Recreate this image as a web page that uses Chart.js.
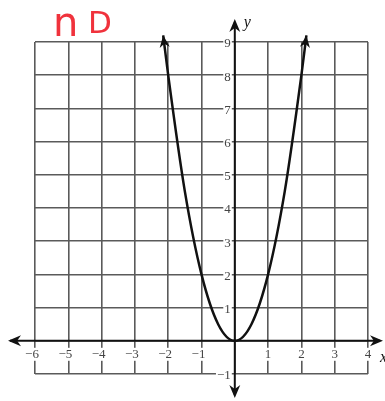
<!DOCTYPE html>
<html>
<head>
<meta charset="utf-8">
<script src="https://cdn.jsdelivr.net/npm/chart.js@4/dist/chart.umd.min.js"></script>
<style>
  body { margin: 0; background: #fff; }
  #wrap { width: 385px; height: 401px; }
</style>
</head>
<body>
<div id="wrap"><canvas id="graph" width="385" height="401"></canvas></div>
<script>
// points
const curveX = [-2.15, -2, -1.5, -1, -0.5, 0, 0.5, 1, 1.5, 2, 2.15];
const curveY = [9.2, 8, 4.5, 2, 0.5, 0, 0.5, 2, 4.5, 8, 9.2];

// tick labels
const xTicks = [-6, -5, -4, -3, -2, -1, 1, 2, 3, 4];
const yTicks = [-1, 1, 2, 3, 4, 5, 6, 7, 8, 9];

const xMin = -6, xMax = 4, yMin = -1, yMax = 9;

function label(n) {
  return n < 0 ? "\u2212" + Math.abs(n) : String(n);
}

function arrowHead(ctx, x, y, angle, size) {
  ctx.save();
  ctx.translate(x, y);
  ctx.rotate(angle);
  ctx.beginPath();
  ctx.moveTo(0, 0);
  ctx.lineTo(-size, -size * 0.42);
  ctx.lineTo(-size * 0.7, 0);
  ctx.lineTo(-size, size * 0.42);
  ctx.closePath();
  ctx.fill();
  ctx.restore();
}

// axes, arrows and labels drawn on top of the grid
const axesPlugin = {
  id: "axes",
  beforeDatasetsDraw(chart) {
    const ctx = chart.ctx;
    const xs = chart.scales.x, ys = chart.scales.y;
    const x0 = xs.getPixelForValue(0);
    const y0 = ys.getPixelForValue(0);

    ctx.save();
    ctx.strokeStyle = "#111";
    ctx.fillStyle = "#111";
    ctx.lineWidth = 2;

    // x axis
    ctx.beginPath();
    ctx.moveTo(10, y0);
    ctx.lineTo(380, y0);
    ctx.stroke();
    arrowHead(ctx, 8, y0, Math.PI, 13);
    arrowHead(ctx, 383, y0, 0, 13);

    // y axis
    ctx.beginPath();
    ctx.moveTo(x0, 22);
    ctx.lineTo(x0, 395);
    ctx.stroke();
    arrowHead(ctx, x0, 19, -Math.PI / 2, 13);
    arrowHead(ctx, x0, 398, Math.PI / 2, 13);

    // tick labels
    ctx.font = "13px 'Liberation Serif'";
    ctx.textBaseline = "middle";
    xTicks.forEach(v => {
      const px = xs.getPixelForValue(v) - (v < 0 ? 3 : 0);
      const t = label(v);
      const w = ctx.measureText(t).width;
      ctx.fillStyle = "#fff";
      ctx.fillRect(px - w / 2 - 1, y0 + 7, w + 2, 13);
      ctx.fillStyle = "#444";
      ctx.textAlign = "center";
      ctx.fillText(t, px, y0 + 14);
    });
    yTicks.forEach(v => {
      const py = ys.getPixelForValue(v) + 2;
      const t = label(v);
      const w = ctx.measureText(t).width;
      ctx.fillStyle = "#fff";
      ctx.fillRect(x0 - 4 - w - 1, py - 6, w + 2, 12);
      ctx.fillStyle = "#444";
      ctx.textAlign = "right";
      ctx.fillText(t, x0 - 4, py);
    });

    // axis names
    ctx.fillStyle = "#111";
    ctx.font = "italic 16px 'Liberation Serif'";
    ctx.textAlign = "left";
    ctx.fillText("y", x0 + 9, 23);
    ctx.fillText("x", 380, y0 + 17);

    // red handwriting
    ctx.fillStyle = "#f0323c";
    ctx.textBaseline = "alphabetic";
    ctx.font = "40px 'DejaVu Sans'";
    ctx.fillText("n", 53, 36);
    ctx.font = "31px 'DejaVu Sans'";
    ctx.fillText("D", 88, 33);
    ctx.restore();
  },
  afterDatasetsDraw(chart) {
    const ctx = chart.ctx;
    const xs = chart.scales.x, ys = chart.scales.y;
    const n = curveX.length;
    const ends = [[0, 1], [n - 1, n - 2]];
    ctx.save();
    ctx.fillStyle = "#111";
    ends.forEach(([a, b]) => {
      const ax = xs.getPixelForValue(curveX[a]), ay = ys.getPixelForValue(curveY[a]);
      const bx = xs.getPixelForValue(curveX[b]), by = ys.getPixelForValue(curveY[b]);
      arrowHead(ctx, ax, ay, Math.atan2(ay - by, ax - bx), 12);
    });
    ctx.restore();
  }
};

new Chart(document.getElementById("graph"), {
  type: "scatter",
  data: {
    datasets: [{
      data: curveX.map((x, i) => ({ x: x, y: curveY[i] })),
      showLine: true,
      borderColor: "#111",
      borderWidth: 2.5,
      pointRadius: 0,
      cubicInterpolationMode: "monotone",
      clip: false
    }]
  },
  options: {
    responsive: false,
    animation: false,
    layout: { padding: { left: 35, right: 17, top: 42, bottom: 27 } },
    plugins: { legend: { display: false }, tooltip: { enabled: false } },
    scales: {
      x: {
        type: "linear",
        min: xMin,
        max: xMax,
        ticks: { display: false, stepSize: 1 },
        grid: { color: "#5a5a5a", lineWidth: 1.6, drawTicks: false },
        border: { display: false },
        afterFit: s => { s.height = 0; }
      },
      y: {
        min: yMin,
        max: yMax,
        ticks: { display: false, stepSize: 1 },
        grid: { color: "#5a5a5a", lineWidth: 1.6, drawTicks: false },
        border: { display: false },
        afterFit: s => { s.width = 0; }
      }
    }
  },
  plugins: [axesPlugin]
});
</script>
</body>
</html>
